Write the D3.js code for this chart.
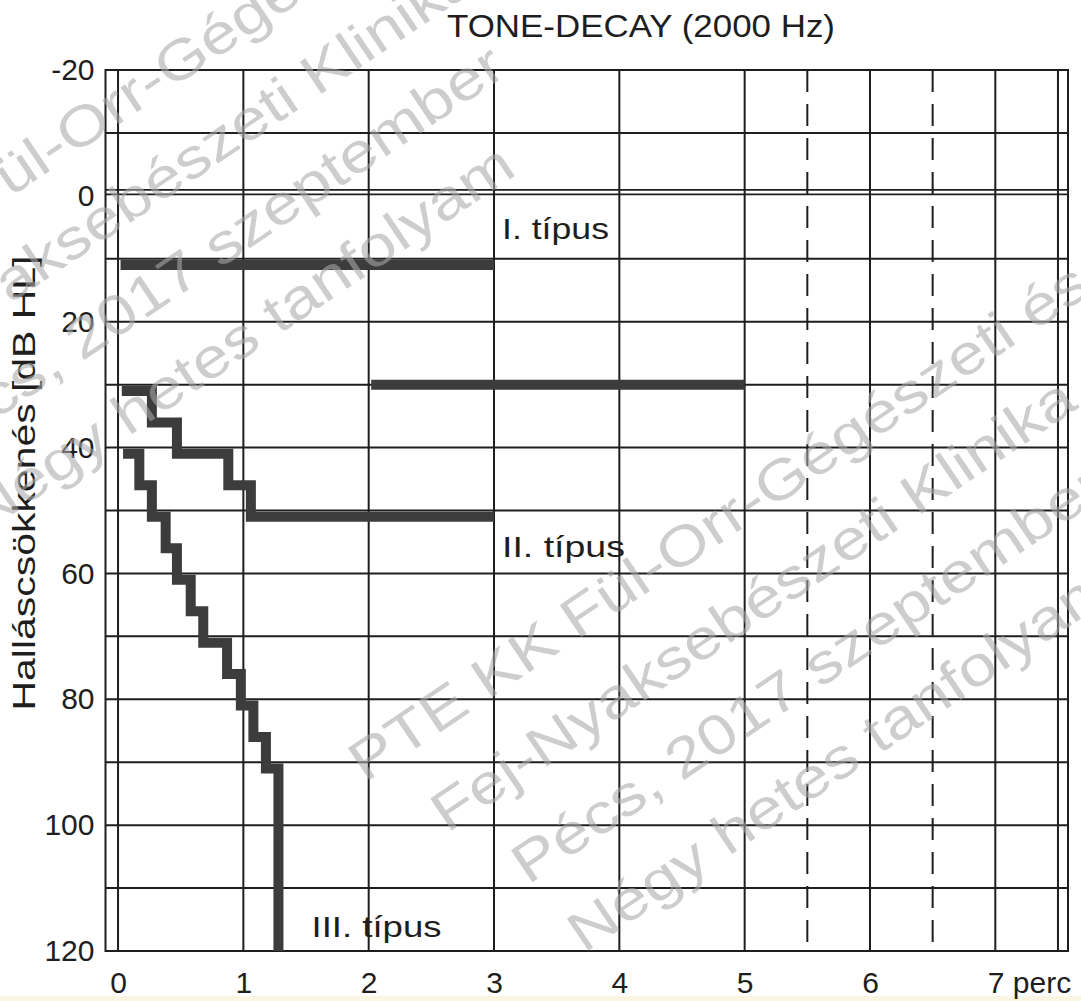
<!DOCTYPE html>
<html>
<head>
<meta charset="utf-8">
<script src="https://cdn.jsdelivr.net/npm/d3@7"></script>
<style>
  html, body { margin: 0; padding: 0; background: #fff; }
  svg { display: block; font-family: "Liberation Sans", Arial, Helvetica, sans-serif; }
</style>
</head>
<body>
<svg id="chart" width="1081" height="1001"></svg>
<script>
// Tone decay, 2000 Hz — adatok: [idő (perc), hallásküszöb (dB HL)]
const typeI = [[0.02, 11], [3, 11]];
const typeIb = [[2.02, 30], [5, 30]];
const typeII = [[0.03, 31], [0.27, 36], [0.47, 41], [0.88, 46], [1.06, 51], [3, 51]];
const typeIII = [[0.04, 41], [0.17, 46], [0.27, 51], [0.38, 56], [0.47, 61], [0.58, 66],
                 [0.68, 71], [0.87, 76], [0.98, 81], [1.08, 86], [1.18, 91], [1.28, 120]];

const yTicks = [-20, 0, 20, 40, 60, 80, 100, 120];
const yGrid = [-10, 10, 20, 30, 40, 50, 60, 70, 80, 90, 100, 110];
const xTicks = [0, 1, 2, 3, 4, 5, 6, 7];
const xGrid = [0, 1, 2, 3, 4, 5, 6, 7, 7.5];
const xDashed = [5.5, 6.5];

const labels = [
  { text: "I. típus", t: 3, db: 6.8, len: 107 },
  { text: "II. típus", t: 3, db: 57.4, len: 123 },
  { text: "III. típus", t: 1.48, db: 117.8, len: 130 }
];

const watermarkLines = ["PTE KK Fül-Orr-Gégészeti és", "Fej-Nyaksebészeti Klinika",
                        "Pécs, 2017 szeptember", "Négy hetes tanfolyam"];

const INK = "#1e1e1e";
const MARK = "#3c3c3c";

const svg = d3.select("#chart");

const x = d3.scaleLinear().domain([-0.1, 7.58]).range([105.5, 1068]);
const y = d3.scaleLinear().domain([-20, 120]).range([70, 951]);

// papír alsó széle
svg.append("rect").attr("x", 0).attr("y", 996).attr("width", 1081).attr("height", 5)
  .attr("fill", "#fbf5e4");

// --- rács ---
const grid = svg.append("g").attr("stroke", INK).attr("stroke-width", 2).attr("fill", "none");

grid.selectAll("line.h").data(yGrid).join("line")
  .attr("x1", x.range()[0]).attr("x2", x.range()[1])
  .attr("y1", d => y(d)).attr("y2", d => y(d));

// dupla vonal a 0 dB-nél
grid.selectAll("line.zero").data([-6, -1.5]).join("line")
  .attr("x1", x.range()[0]).attr("x2", x.range()[1])
  .attr("y1", d => y(0) + d).attr("y2", d => y(0) + d)
  .attr("stroke-width", 1.6);

grid.selectAll("line.v").data(xGrid).join("line")
  .attr("x1", d => x(d)).attr("x2", d => x(d))
  .attr("y1", y.range()[0]).attr("y2", y.range()[1]);

grid.selectAll("line.dash").data(xDashed).join("line")
  .attr("x1", d => x(d)).attr("x2", d => x(d))
  .attr("y1", y.range()[0]).attr("y2", y.range()[1])
  .attr("stroke-dasharray", "22,12");

grid.append("rect")
  .attr("x", x.range()[0]).attr("y", y.range()[0])
  .attr("width", x.range()[1] - x.range()[0])
  .attr("height", y.range()[1] - y.range()[0]);

// --- görbék ---
const line = d3.line().x(d => x(d[0])).y(d => y(d[1]));
const stepLine = d3.line().curve(d3.curveStepAfter).x(d => x(d[0])).y(d => y(d[1]));

const marks = svg.append("g").attr("fill", "none").attr("stroke", MARK)
  .attr("stroke-width", 10).attr("stroke-linejoin", "miter");

marks.append("path").attr("d", line(typeI));
marks.append("path").attr("d", line(typeIb));
marks.append("path").attr("d", stepLine(typeII));
marks.append("path").attr("d", stepLine(typeIII));

// --- tengelyek ---
const yAxis = svg.append("g")
  .attr("transform", `translate(${x.range()[0]},0)`)
  .call(d3.axisLeft(y).tickValues(yTicks).tickSize(0).tickPadding(11)
    .tickFormat(d => String(d)));

const xAxis = svg.append("g")
  .attr("transform", `translate(0,${y.range()[1]})`)
  .call(d3.axisBottom(x).tickValues(xTicks).tickSize(0).tickPadding(21)
    .tickFormat(d => d === 7 ? "7 perc" : String(d)));

[yAxis, xAxis].forEach(a => {
  a.select(".domain").remove();
  a.selectAll("text").attr("font-size", 30).attr("fill", INK)
    .attr("font-family", "'Liberation Sans', Arial, sans-serif");
});
xAxis.selectAll("text").filter(d => d === 7).attr("text-anchor", "start").attr("x", -8);

svg.append("text")
  .attr("x", 641).attr("y", 37)
  .attr("text-anchor", "middle")
  .attr("font-size", 32).attr("fill", INK)
  .attr("textLength", 388).attr("lengthAdjust", "spacingAndGlyphs")
  .text("TONE-DECAY (2000 Hz)");

svg.append("text")
  .attr("transform", "translate(35,483) rotate(-90)")
  .attr("text-anchor", "middle")
  .attr("font-size", 31).attr("fill", INK)
  .attr("textLength", 455).attr("lengthAdjust", "spacingAndGlyphs")
  .text("Halláscsökkenés [dB HL]");

svg.selectAll("text.lab").data(labels).join("text")
  .attr("x", d => x(d.t) + 8).attr("y", d => y(d.db))
  .attr("font-size", 30).attr("fill", INK)
  .attr("textLength", d => d.len).attr("lengthAdjust", "spacingAndGlyphs")
  .text(d => d.text);

// --- vízjel ---
const wmOffsets = [[0, 0], [-600, -420]];
const wmAlong = [0, 40, 78, 86];
wmOffsets.forEach(o => {
  const g = svg.append("g")
    .attr("transform", `translate(${365 + o[0]},${783 + o[1]}) rotate(-34) scale(1.19,1)`)
    .attr("fill", "#a8a8a8").attr("fill-opacity", 0.58)
    .attr("font-size", 56);
  g.selectAll("text").data(watermarkLines).join("text")
    .attr("x", (d, i) => wmAlong[i] / 1.19)
    .attr("y", (d, i) => i * 88)
    .text(d => d);
});
</script>
</body>
</html>
